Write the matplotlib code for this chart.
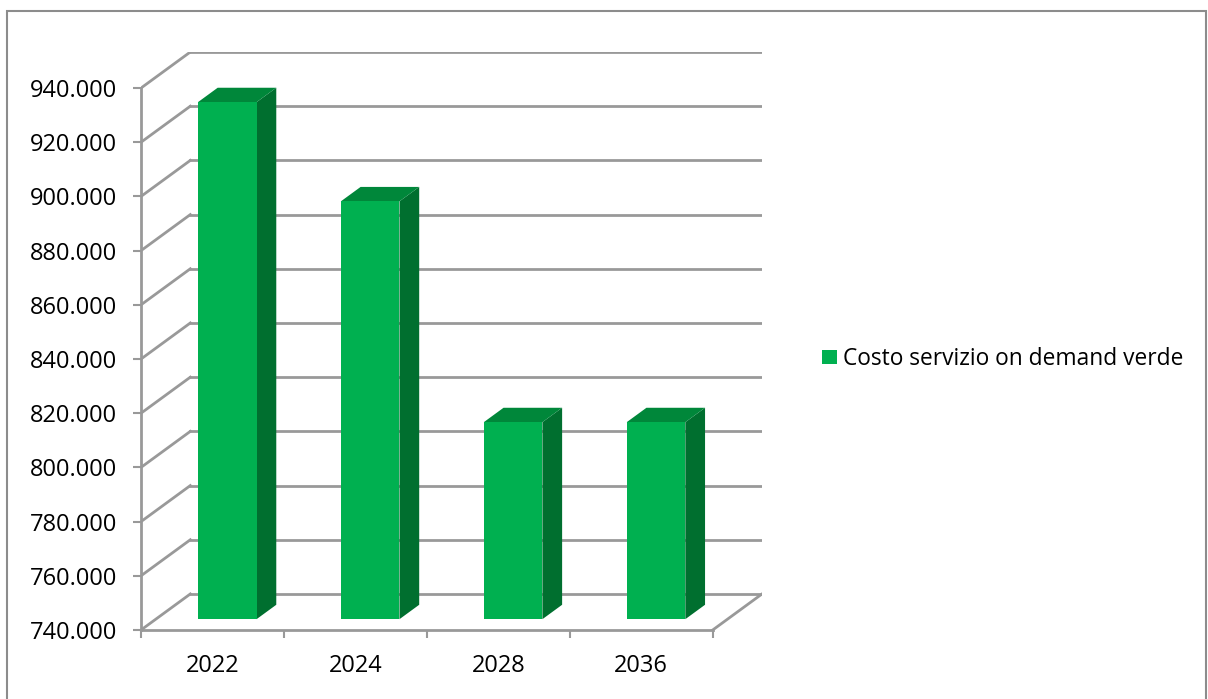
import matplotlib.pyplot as plt
from matplotlib.patches import Polygon, Patch, Rectangle

years = ['2022', '2024', '2028', '2036']
costs = [930800, 894200, 812700, 812700]
y_ticks = [740000, 760000, 780000, 800000, 820000, 840000, 860000, 880000, 900000, 920000, 940000]
series_name = 'Costo servizio on demand verde'

# oblique projection: full depth shift in data units
DX = 0.345
DY = 13300
ymin, ymax = 740000, 940000
bar_w = 0.41
d0, d1 = 0.3, 0.7

grid_c = '#999999'
front_c = '#00b050'
top_c = '#00873a'
side_c = '#006f2f'
plt.rcParams['font.family'] = ['Open Sans', 'DejaVu Sans']
fs = 17

W, H = 1208, 699
fig = plt.figure(figsize=(W / 100, H / 100), dpi=100)
# outer frame, open at the bottom edge of the image
fig.patches.append(Rectangle((7 / W, -10 / H), 1199 / W, 698 / H, transform=fig.transFigure,
                             fill=False, edgecolor='#8c8c8c', linewidth=1.5))

ax = fig.add_axes([141 / W, (H - 630) / H, 621 / W, 578 / H])
ax.set_xlim(-0.5, len(years) - 0.5 + DX)
ax.set_ylim(ymin, ymax + DY)
ax.patch.set_alpha(0)

def proj(x, y, d):
    return (x + d * DX, y + d * DY)

# back wall and left wall lines
for v in y_ticks:
    ax.plot([-0.5 + DX, len(years) - 0.5 + DX], [v + DY, v + DY], color=grid_c, lw=2, zorder=1)
    ax.plot([-0.5, -0.5 + DX], [v, v + DY], color=grid_c, lw=2, zorder=1)
# right floor edge
ax.plot([len(years) - 0.5, len(years) - 0.5 + DX], [ymin, ymin + DY], color=grid_c, lw=2, zorder=1)

for i, v in enumerate(costs):
    xl, xr = i - bar_w / 2, i + bar_w / 2
    front = [proj(xl, ymin, d0), proj(xr, ymin, d0), proj(xr, v, d0), proj(xl, v, d0)]
    side = [proj(xr, ymin, d0), proj(xr, ymin, d1), proj(xr, v, d1), proj(xr, v, d0)]
    top = [proj(xl, v, d0), proj(xr, v, d0), proj(xr, v, d1), proj(xl, v, d1)]
    ax.add_patch(Polygon(side, closed=True, facecolor=side_c, edgecolor='none', zorder=3))
    ax.add_patch(Polygon(top, closed=True, facecolor=top_c, edgecolor='none', zorder=3))
    ax.add_patch(Polygon(front, closed=True, facecolor=front_c, edgecolor='none', zorder=4))

for s in ['top', 'right']:
    ax.spines[s].set_visible(False)
ax.spines['left'].set_bounds(ymin, ymax)
ax.spines['bottom'].set_bounds(-0.5, len(years) - 0.5)
for s in ['left', 'bottom']:
    ax.spines[s].set_color(grid_c)
    ax.spines[s].set_linewidth(2)

ax.set_yticks(y_ticks)
ax.set_yticklabels([f'{v:,}'.replace(',', '.') for v in y_ticks], fontsize=fs)
ax.tick_params(axis='y', length=6, width=1.5, color=grid_c, pad=11)
ax.set_xticks([i - 0.5 for i in range(len(years) + 1)])
ax.set_xticklabels([])
ax.set_xticks(range(len(years)), minor=True)
ax.set_xticklabels(years, minor=True, fontsize=fs)
ax.tick_params(axis='x', which='major', length=6, width=1.5, color=grid_c)
ax.tick_params(axis='x', which='minor', length=0, pad=17)

fig.legend(handles=[Patch(facecolor=front_c, label=series_name)], loc='center left',
           bbox_to_anchor=(811 / W, (H - 359) / H), frameon=False, fontsize=16.4,
           handlelength=0.62, handleheight=0.62, handletextpad=0.3, borderpad=0)

fig.savefig('out.png', dpi=100)
